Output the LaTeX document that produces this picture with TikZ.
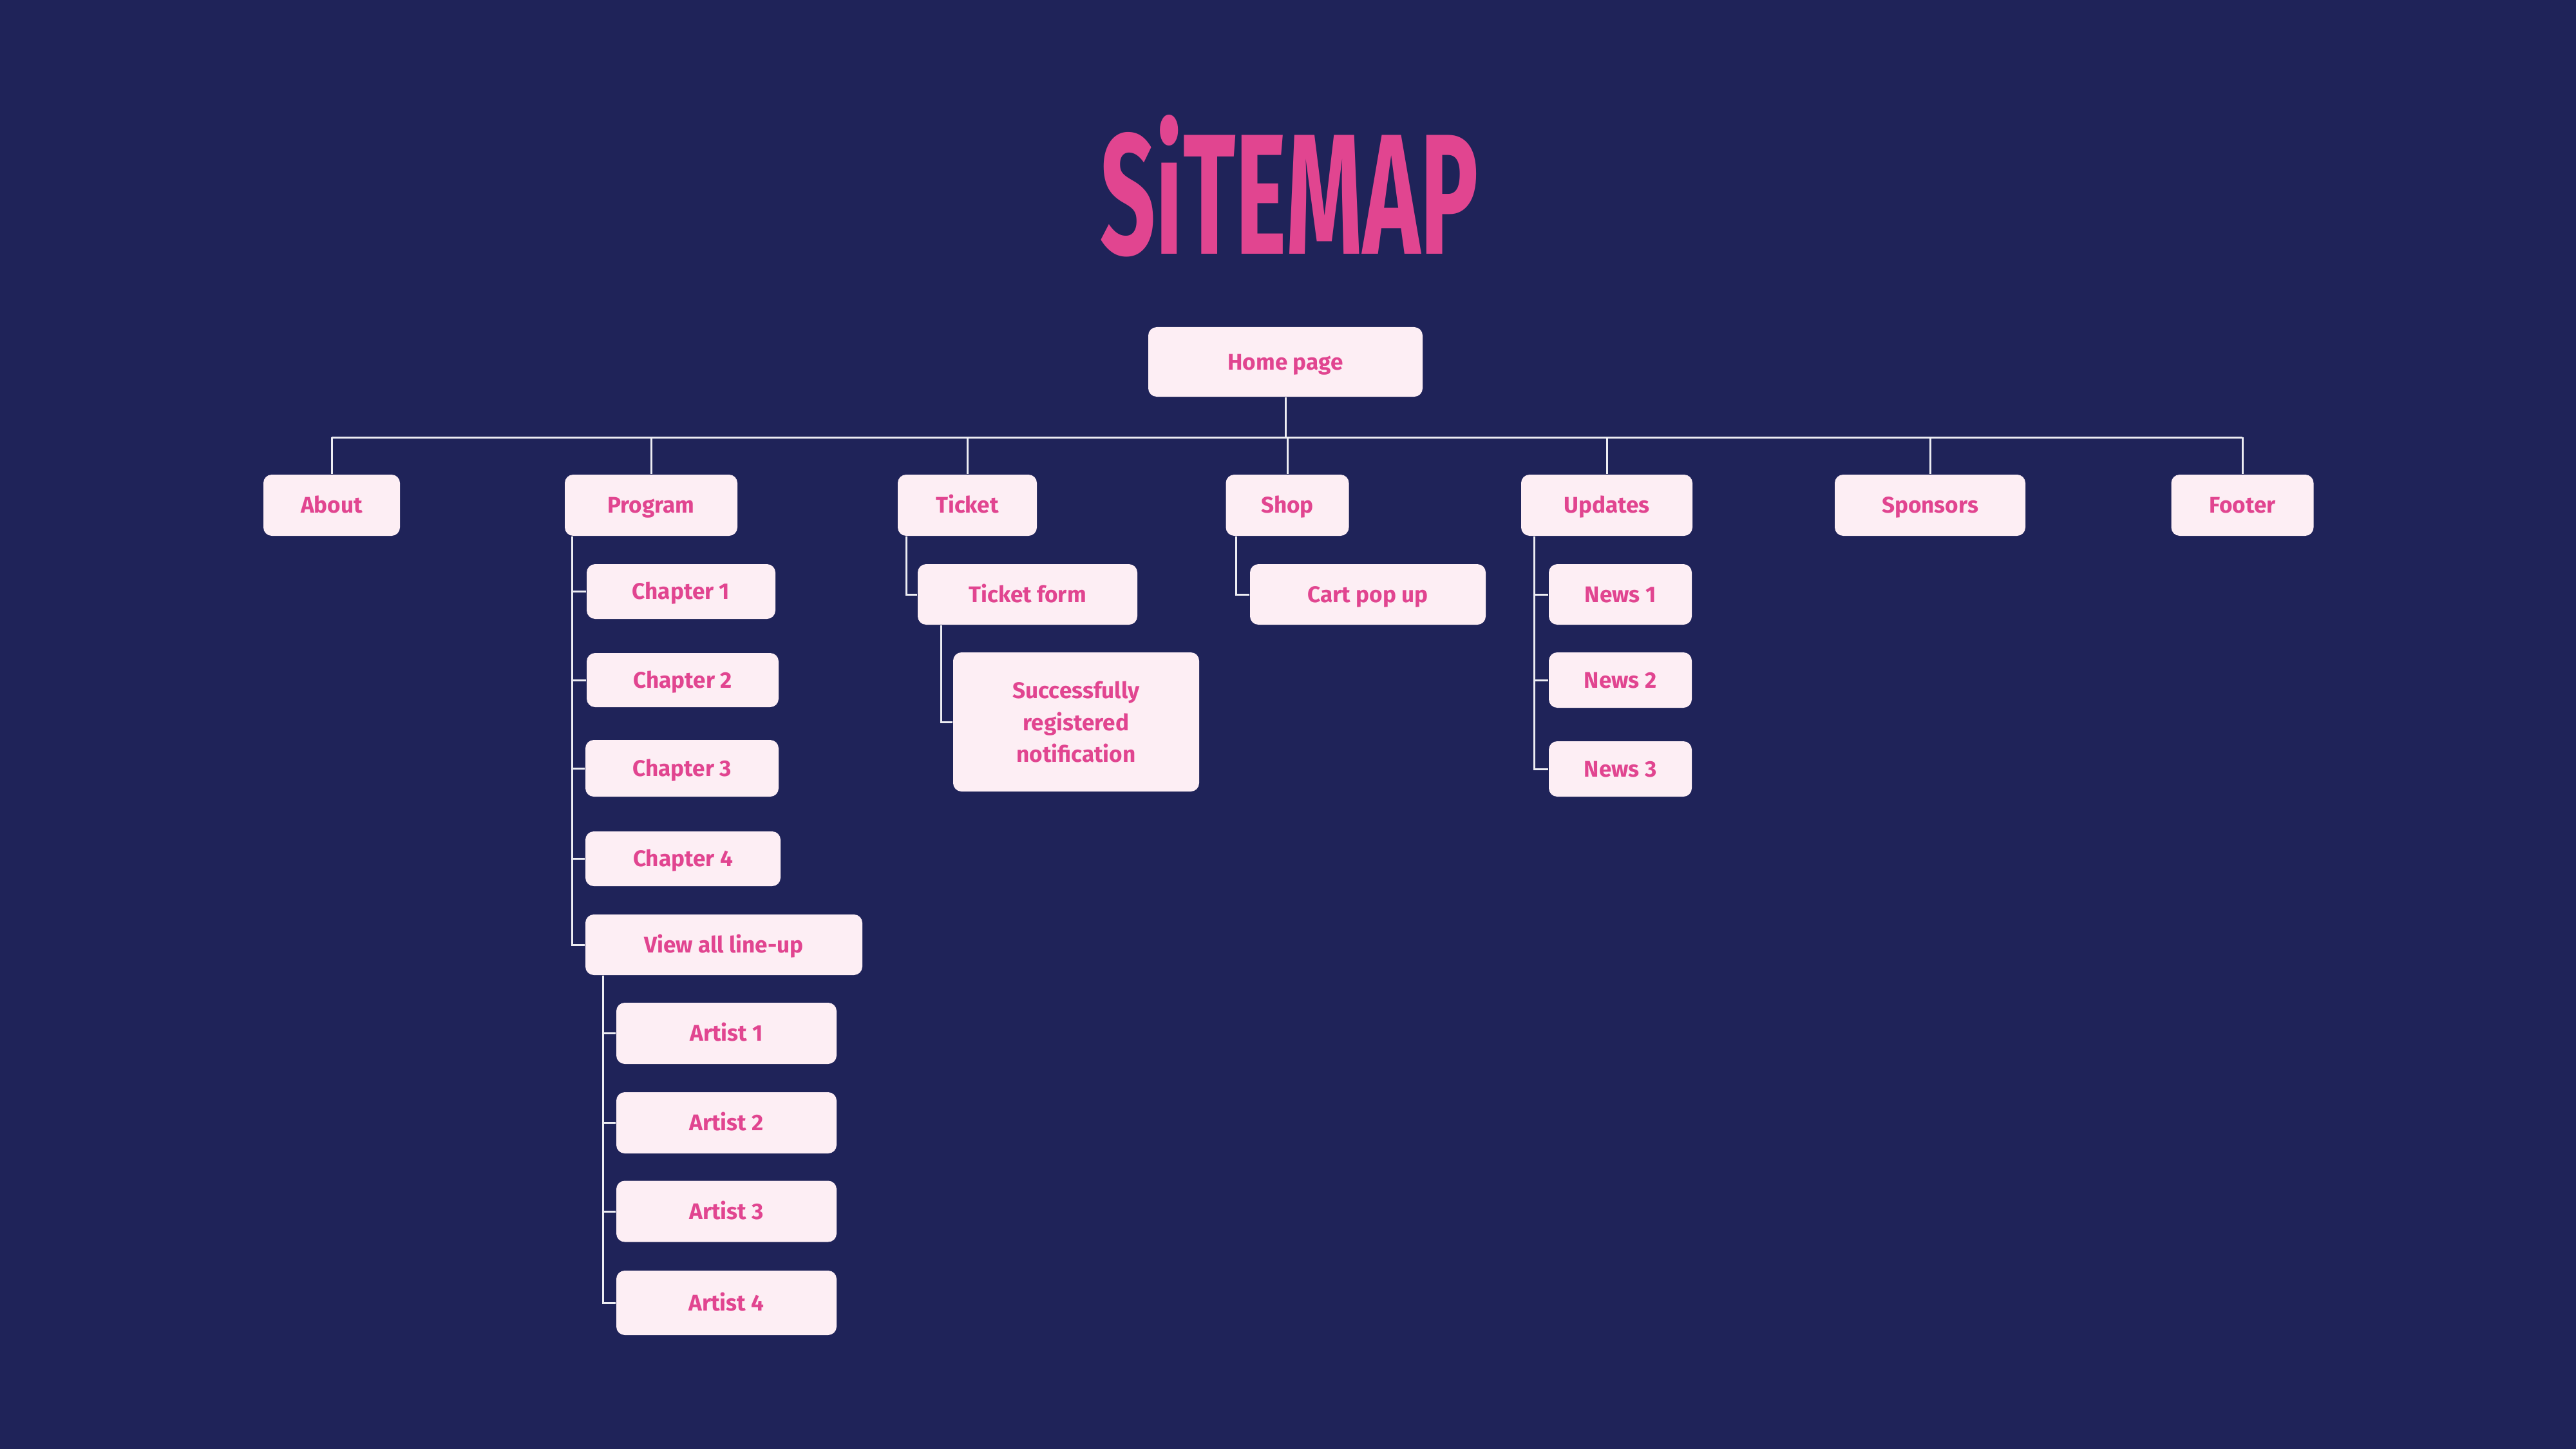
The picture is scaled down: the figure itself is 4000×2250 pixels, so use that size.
\documentclass[tikz,border=0pt]{standalone}
\usepackage{fontspec}
\setmainfont{Fira Sans}
\usetikzlibrary{calc}

\definecolor{navybg}{HTML}{1F2359}
\definecolor{boxfill}{HTML}{FDEEF4}
\definecolor{pagepink}{HTML}{E14590}
\definecolor{linkgray}{HTML}{EDEDF3}

\tikzset{
  pagebox/.style 2 args={rectangle, rounded corners=1.3mm, fill=boxfill, text=pagepink,
    font=\fontsize{10}{14}\selectfont\bfseries, inner sep=0pt, align=center,
    text height=6.9pt, text depth=0pt,
    minimum width=#1*0.1mm, minimum height=#2*0.1mm},
  link/.style={linkgray, line width=0.3mm}
}

\begin{document}
\begin{tikzpicture}[x=0.1mm, y=-0.1mm]

    % Background
    \fill[navybg] (0,0) rectangle (4000,2250);
    \useasboundingbox (0,0) rectangle (4000,2250);

    % Title
    \node[anchor=base, inner sep=0pt, text=pagepink] (title) at (2002,395)
      {\resizebox{58.7mm}{21.6mm}{\bfseries SiTEMAP}};

    % Home page
    \node[pagebox={426}{108}] (home) at (1996,562) {Home page};

    % Top level pages
    \node[pagebox={212}{95}] (about)    at (515,784.5)  {About};
    \node[pagebox={268}{95}] (program)  at (1011,784.5) {Program};
    \node[pagebox={216}{95}] (ticket)   at (1502,784.5) {Ticket};
    \node[pagebox={191}{95}] (shop)     at (1999,784.5) {Shop};
    \node[pagebox={266}{95}] (updates)  at (2495,784.5) {Updates};
    \node[pagebox={296}{95}] (sponsors) at (2997,784.5) {Sponsors};
    \node[pagebox={221}{95}] (footer)   at (3482,784.5) {Footer};

    % Program pages
    \node[pagebox={293}{85}]  (ch1)    at (1057.5,918.5) {Chapter 1};
    \node[pagebox={298}{84}]  (ch2)    at (1060,1056)    {Chapter 2};
    \node[pagebox={300}{88}]  (ch3)    at (1059,1193)    {Chapter 3};
    \node[pagebox={303}{85}]  (ch4)    at (1060.5,1333.5) {Chapter 4};
    \node[pagebox={430}{94}]  (lineup) at (1124,1467)    {View all line-up};
    \node[pagebox={342}{95}]  (art1)   at (1128,1604.5)  {Artist 1};
    \node[pagebox={342}{95}]  (art2)   at (1128,1743.5)  {Artist 2};
    \node[pagebox={342}{95}]  (art3)   at (1128,1881)    {Artist 3};
    \node[pagebox={342}{100}] (art4)   at (1128,2023)    {Artist 4};

    % Ticket pages
    \node[pagebox={341}{94}]  (tform) at (1595.5,923) {Ticket form};
    \node[pagebox={382}{216}, text height={}, text depth={}] (notif) at (1671,1121)
      {Successfully\\registered\\notification};

    % Shop pages
    \node[pagebox={366}{94}] (cart) at (2124,923) {Cart pop up};

    % Updates pages
    \node[pagebox={222}{94}] (news1) at (2516,923)  {News 1};
    \node[pagebox={222}{86}] (news2) at (2516,1056) {News 2};
    \node[pagebox={222}{86}] (news3) at (2516,1194) {News 3};

    % Bus below home page
    \coordinate (bus) at (0,679);
    \draw[link] (home.south) -- (home.south |- bus);
    \draw[link] (about |- bus) -- (footer |- bus);
    \foreach \pg in {about,program,ticket,shop,updates,sponsors,footer}
      \draw[link] (\pg |- bus) -- (\pg.north);

    % Branch lines
    \coordinate (progline)   at ($(program.south west)+(12,0)$);
    \coordinate (ticketline) at ($(ticket.south west)+(14,0)$);
    \coordinate (formline)   at ($(tform.south west)+(37,0)$);
    \coordinate (shopline)   at ($(shop.south west)+(17,0)$);
    \coordinate (newsline)   at ($(updates.south west)+(21,0)$);
    \coordinate (artline)    at ($(lineup.south west)+(28,0)$);

    \foreach \chap in {ch1,ch2,ch3,ch4,lineup}
      \draw[link] (progline) |- (\chap.west);
    \foreach \art in {art1,art2,art3,art4}
      \draw[link] (artline) |- (\art.west);
    \draw[link] (ticketline) |- (tform.west);
    \draw[link] (formline) |- (notif.west);
    \draw[link] (shopline) |- (cart.west);
    \foreach \news in {news1,news2,news3}
      \draw[link] (newsline) |- (\news.west);

\end{tikzpicture}
\end{document}
